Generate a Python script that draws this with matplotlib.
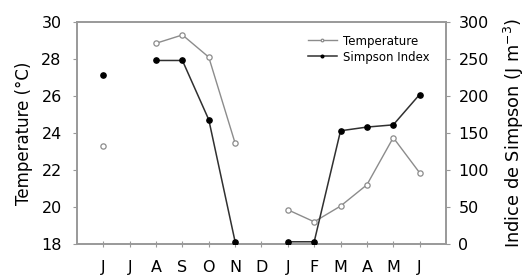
import numpy as np
import matplotlib
matplotlib.use("Agg")
import matplotlib.pyplot as plt

months = ["J", "J", "A", "S", "O", "N", "D", "J", "F", "M", "A", "M", "J"]
temperature = [23.3, np.nan, 28.85, 29.3, 28.1, 23.45, np.nan, 19.85, 19.2, 20.05, 21.2, 23.75, 21.85]
simpson = [228, np.nan, 248, 248, 168, 3, np.nan, 3, 3, 153, 158, 161, 202]

plt.rcParams['font.family'] = ['DejaVu Sans']
fig = plt.figure(figsize=(5.32, 2.78), dpi=100)
ax = fig.add_axes([0.1447, 0.1223, 0.6936, 0.7986])
ax2 = ax.twinx()

x = np.arange(1, len(months) + 1)
spine_c = "#999999"

lt, = ax.plot(x, temperature, color="#8c8c8c", lw=1.0, marker="o", ms=3.8,
              mfc="white", mec="#8c8c8c", mew=0.9, zorder=3)
ls, = ax2.plot(x, simpson, color="#303030", lw=1.1, marker="o", ms=3.8,
               mfc="black", mec="black", zorder=3)

ax.set_xlim(0, 14)
ax.set_ylim(18, 30)
ax.set_yticks(np.arange(18, 31, 2))
ax2.set_ylim(0, 300)
ax2.set_yticks(np.arange(0, 301, 50))
ax.set_xticks(x)
ax.set_xticklabels(months)

for a in (ax, ax2):
    for s in a.spines.values():
        s.set_color(spine_c)
        s.set_linewidth(1.2)

ax.tick_params(axis="y", direction="out", length=3, color=spine_c, labelsize=11.5, pad=8)
ax2.tick_params(axis="y", direction="out", length=3, color=spine_c, labelsize=11.5, pad=6)
ax.tick_params(axis="x", direction="inout", length=5, color=spine_c, labelsize=11.5, pad=9)

ax.set_ylabel("Temperature (°C)", fontsize=12, labelpad=6)
ax2.set_ylabel("Indice de Simpson (J m$^{-3}$)", fontsize=12.8, labelpad=9)

leg = ax.legend([lt, ls], ["Temperature", "Simpson Index"], loc="upper right",
                bbox_to_anchor=(0.975, 0.975), frameon=False, fontsize=8.5,
                markerscale=0.5, handlelength=2.5, handletextpad=0.5,
                labelspacing=0.25, borderaxespad=0.2)

fig.savefig("out.png", dpi=100)
